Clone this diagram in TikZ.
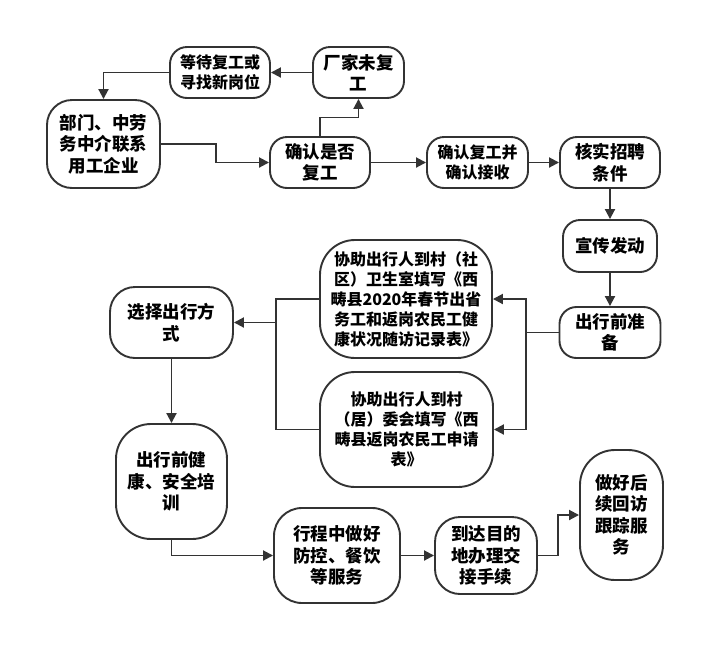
\documentclass[tikz,border=0pt]{standalone}
\usepackage{fontspec}
\setmainfont{Noto Sans CJK SC}
\usetikzlibrary{arrows.meta,calc}
\begin{document}
\begin{tikzpicture}[x=1pt,y=-1pt,
  box/.style={draw=lineclr,line width=1.9pt,fill=white,align=center,inner sep=0pt,
     font=\fontsize{17.5}{21.5}\selectfont\bfseries,text=black},
  smallbox/.style={box,font=\fontsize{16}{20}\selectfont\bfseries},
  arr/.style={draw=lineclr,line width=1.9pt,-{Triangle[length=10pt,width=10pt]}},
  ln/.style={draw=lineclr,line width=1.9pt}]
\definecolor{lineclr}{HTML}{333333}
\fill[white] (0,0) rectangle (724,665);
\useasboundingbox (0,0) rectangle (724,665);
% nodes
\node[smallbox,minimum width=100pt,minimum height=51pt,rounded corners=17pt] (wait) at (220,72.5) {等待复工或\\寻找新岗位};
\node[box,minimum width=91pt,minimum height=51pt,rounded corners=17pt] (fac) at (358.5,72.5) {厂家未复\\工};
\node[box,minimum width=113pt,minimum height=88pt,rounded corners=25pt] (dept) at (103.5,144) {部门、中劳\\务中介联系\\用工企业};
\node[box,minimum width=100pt,minimum height=51pt,rounded corners=17pt] (conf) at (320,162.5) {确认是否\\复工};
\node[smallbox,minimum width=101pt,minimum height=51pt,rounded corners=17pt] (conf2) at (477.5,162.5) {确认复工并\\确认接收};
\node[box,minimum width=100pt,minimum height=51pt,rounded corners=17pt] (verify) at (610,162.5) {核实招聘\\条件};
\node[box,minimum width=94pt,minimum height=52pt,rounded corners=17pt] (prop) at (610,246) {宣传发动};
\node[box,minimum width=101pt,minimum height=51pt,rounded corners=17pt] (prep) at (610,332.5) {出行前准\\备};
\node[smallbox,minimum width=172pt,minimum height=118pt,rounded corners=35pt] (helpA) at (406,299) {协助出行人到村（社\\区）卫生室填写《西\\畴县2020年春节出省\\务工和返岗农民工健\\康状况随访记录表》};
\node[smallbox,minimum width=173pt,minimum height=115pt,rounded corners=35pt] (helpB) at (406.5,429.5) {协助出行人到村\\（居）委会填写《西\\畴县返岗农民工申请\\表》};
\node[box,minimum width=123pt,minimum height=71pt,rounded corners=25pt] (choose) at (171.5,322.5) {选择出行方\\式};
\node[box,minimum width=111pt,minimum height=115pt,rounded corners=35pt] (health) at (171.5,481.5) {出行前健\\康、安全培\\训};
\node[box,minimum width=126pt,minimum height=95pt,rounded corners=28pt] (trip) at (337,555.5) {行程中做好\\防控、餐饮\\等服务};
\node[box,minimum width=102pt,minimum height=77pt,rounded corners=25pt] (arrive) at (486,555.5) {到达目的\\地办理交\\接手续};
\node[box,minimum width=83pt,minimum height=130pt,rounded corners=35pt] (follow) at (621.5,515) {做好后\\续回访\\跟踪服\\务};
% junctions
\coordinate (jr) at (526,332.5);
\coordinate (jl) at (276,322.5);
% connectors
\draw[arr] (dept.east) -- ++(55,0) |- (conf.west);
\draw[arr] (conf.north) |- ($(conf.north)!0.5!(fac.south)$) -| (fac.south);
\draw[arr] (fac.west) -- (wait.east);
\draw[arr] (wait.west) -| (dept.north);
\draw[arr] (conf.east) -- (conf2.west);
\draw[arr] (conf2.east) -- (verify.west);
\draw[arr] (verify.south) -- (prop.north);
\draw[arr] (prop.south) -- (prep.north);
\draw[ln] (prep.west) -- (jr);
\draw[arr] (jr) |- (helpA.east);
\draw[arr] (jr) |- (helpB.east);
\draw[ln] (helpA.west) -| (jl);
\draw[ln] (helpB.west) -| (jl);
\draw[arr] (jl) -- (choose.east);
\draw[arr] (choose.south) -- (health.north);
\draw[arr] (health.south) |- (trip.west);
\draw[arr] (trip.east) -- (arrive.west);
\draw[arr] (arrive.east) -- ++(20,0) |- (follow.west);
\end{tikzpicture}
\end{document}
